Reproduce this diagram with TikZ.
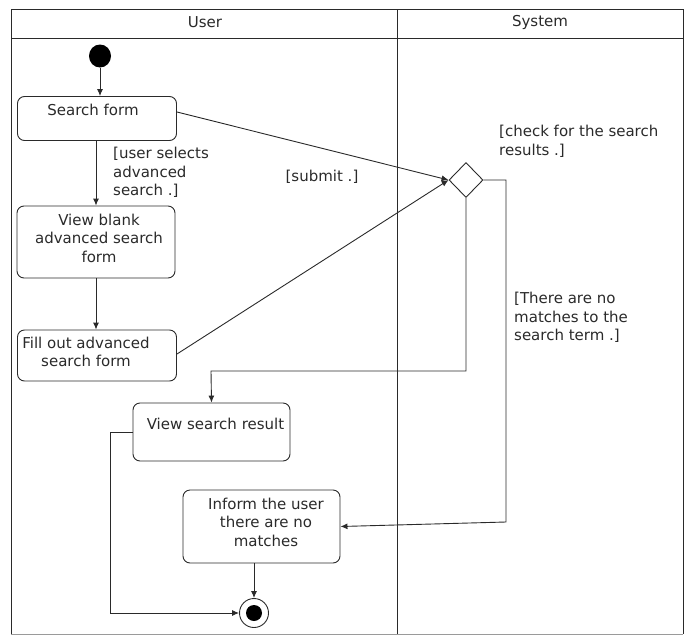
\documentclass[tikz,border=0pt]{standalone}
\usepackage{fontspec}
\setmainfont{DejaVu Sans}
\usetikzlibrary{shapes.geometric,arrows.meta}
\definecolor{ink}{HTML}{2A2A2A}
\definecolor{pale}{HTML}{9A9A9A}
\tikzset{
  act/.style={draw=ink, line width=0.9pt, rounded corners=7pt, inner sep=0pt},
  txt/.style={font=\fontsize{15}{18.5}\selectfont, text=ink, align=center, inner sep=0pt},
  ltxt/.style={txt, align=left, anchor=north west},
  flow/.style={draw=ink, line width=0.9pt, -{Latex[length=7pt,width=6pt]}},
  frame/.style={draw=ink, line width=0.9pt},
}
\begin{document}
\begin{tikzpicture}[x=1pt,y=-1pt]
\useasboundingbox (0,0) rectangle (691,635);
% swimlane frame
\draw[frame] (11,634) -- (11,9) -- (683,9) -- (683,634);
\draw[draw=pale, line width=0.9pt] (11,634) -- (683,634);
\draw[frame] (11,38) -- (683,38);
\draw[frame] (397,9) -- (397,634);
\node[txt] (lu) at (205,22) {User};
\node[txt] (ls) at (540,22) {System};

% start
\node[ellipse, fill=black, minimum width=22pt, minimum height=23pt, inner sep=0pt] (start) at (100,56) {};

% activities
\node[act, minimum width=159pt, minimum height=44pt] (sf) at (97,118.5) {};
\node[txt] (sft) at (93,110) {Search form};
\node[act, minimum width=158pt, minimum height=72pt] (vb) at (96,242) {};
\node[txt] (vbt) at (99,238) {View blank\\advanced search\\form};
\node[act, minimum width=159pt, minimum height=51pt] (fo) at (97,355.5) {};
\node[txt] (fot) at (86,352) {Fill out advanced\\search form};
\node[act, minimum width=157pt, minimum height=58pt] (vr) at (211.5,432) {};
\node[txt] (vrt) at (215.5,424) {View search result};
\node[act, minimum width=157pt, minimum height=73pt] (inf) at (261.5,526.5) {};
\node[txt] (inft) at (266,522) {Inform the user\\there are no\\matches};

% decision
\node[diamond, draw=ink, line width=0.9pt, minimum width=34pt, minimum height=35pt, inner sep=0pt] (dec) at (466,180) {};

% final
\node[circle, draw=ink, line width=0.9pt, minimum width=29pt, inner sep=0pt] (fin) at (254,613) {};
\node[circle, fill=black, minimum width=16pt, inner sep=0pt] (fini) at (254,613) {};

% coordinates
\coordinate (sfr) at (177,112);
\coordinate (for) at (177,354);
\coordinate (c1) at (466,371);
\coordinate (c2) at (211,371);
\coordinate (c3) at (506,180);
\coordinate (c4) at (506,522);
\coordinate (vrl) at (133,432);
\coordinate (c5) at (110,432);
\coordinate (c6) at (110,613);
\coordinate (infb) at (254,563);
\coordinate (sfb) at (96,140);

% flows
\draw[flow] (start) -- (start |- sf.north);
\draw[flow] (sfb) -- (vb.north);
\draw[flow] (vb.south) -- (vb.south |- fo.north);
\draw[flow] (sfr) -- (dec.west);
\draw[flow] (for) -- (dec.west);
\draw[flow] (dec.south) -- (c1) -- (c2) -- (vr.north);
\draw[flow] (dec.east) -- (c3) -- (c4) -- (inf.east);
\draw[flow] (infb) -- (fin.north);
\draw[flow] (vrl) -- (c5) -- (c6) -- (fin.west);

% guards
\node[ltxt] (g1) at (113,147) {[user selects\\advanced\\search .]};
\node[txt] (g2) at (322,177) {[submit .]};
\node[ltxt] (g3) at (499,125) {[check for the search\\results .]};
\node[ltxt] (g4) at (514,292) {[There are no\\matches to the\\search term .]};
\end{tikzpicture}
\end{document}
